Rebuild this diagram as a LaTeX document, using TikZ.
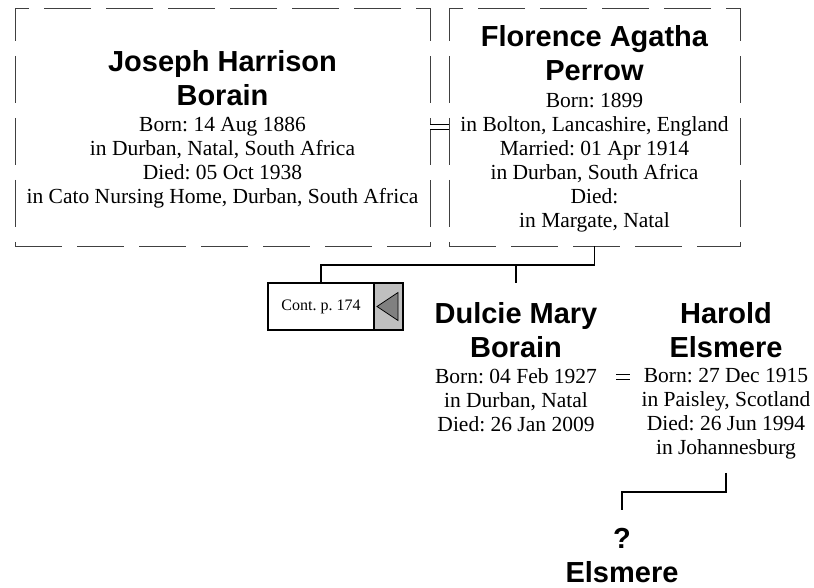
\documentclass[tikz,border=0pt]{standalone}
\usepackage{fontspec}
\setmainfont{Liberation Serif}
\newfontfamily\namefont{Liberation Sans}
\usetikzlibrary{positioning}
\usepackage{xcolor}
\frenchspacing

\begin{document}
\begin{tikzpicture}[x=1pt, y=-1pt,
        personbox/.style={draw=black!75, line width=0.8pt, dash pattern=on 47pt off 15pt, minimum height=238pt, inner sep=0pt},
        persname/.style={font=\namefont\bfseries\fontsize{29}{34}\selectfont, align=center, inner sep=0pt, anchor=north},
        persinfo/.style={font=\fontsize{21.5}{24}\selectfont, align=center, inner sep=0pt, anchor=north},
        famline/.style={line width=1.5pt},
        marriage/.style={double, double distance=4pt, line width=0.8pt}]
        \useasboundingbox (0,0) rectangle (814,588);

        % parents (dashed boxes)
        \node[personbox, minimum width=415pt] (joseph)   at (222.5,127) {};
        \node[personbox, minimum width=291pt] (florence) at (594.5,127) {};
        \node[persname] (josephname) at (222.5,50) {Joseph Harrison\\Borain};
        \node[persinfo] (josephinfo) at (222.5,117.5) {Born: 14 Aug 1886\\in Durban, Natal, South Africa\\Died: 05 Oct 1938\\in Cato Nursing Home, Durban, South Africa};
        \node[persname] (florencename) at (594.5,25) {Florence Agatha\\Perrow};
        \node[persinfo] (florenceinfo) at (594.5,93.5) {Born: 1899\\in Bolton, Lancashire, England\\Married: 01 Apr 1914\\in Durban, South Africa\\Died:\\in Margate, Natal};

        % children
        \node[persname] (dulciename) at (516,302) {Dulcie Mary\\Borain};
        \node[persinfo] (dulcieinfo) at (516,368.5) {Born: 04 Feb 1927\\in Durban, Natal\\Died: 26 Jan 2009};
        \node[persname] (haroldname) at (726,302) {Harold\\Elsmere};
        \node[persinfo] (haroldinfo) at (726,368.5) {Born: 27 Dec 1915\\in Paisley, Scotland\\Died: 26 Jun 1994\\in Johannesburg};
        \node[persname] (elsmere) at (622,528) {?\\Elsmere};

        % continuation box
        \node[draw, line width=2pt, minimum width=106pt, minimum height=47pt, inner sep=0pt, font=\fontsize{16}{18}\selectfont] (cont) at (321,306.5) {Cont. p. 174};
        \node[draw, line width=2pt, fill=black!25, minimum width=29pt, minimum height=47pt, inner sep=0pt, right=-2pt of cont] (contarrow) {};
        \filldraw[fill=black!50, line width=0.8pt] ([xshift=4pt]contarrow.west) -- ([xshift=-6pt, yshift=14pt]contarrow.east) -- ([xshift=-6pt, yshift=-14pt]contarrow.east) -- cycle;

        % marriages
        \draw[marriage] (joseph.east) -- (florence.west);
        \draw[marriage] ([xshift=19pt, yshift=-8.5pt]dulcieinfo.north east) -- ([xshift=-11pt, yshift=-8.5pt]haroldinfo.north west);

        % descent lines
        \coordinate (sibs) at (516,265);
        \draw[famline] (florence.south) |- (sibs) -| (cont.north);
        \draw[famline, shorten >=19pt] (sibs) -- (dulciename.north);
        \coordinate (elsup) at (622,510);
        \draw[famline] ([yshift=-13pt]haroldinfo.south) -- ++(0,19) -| (elsup);
    \end{tikzpicture}
\end{document}
